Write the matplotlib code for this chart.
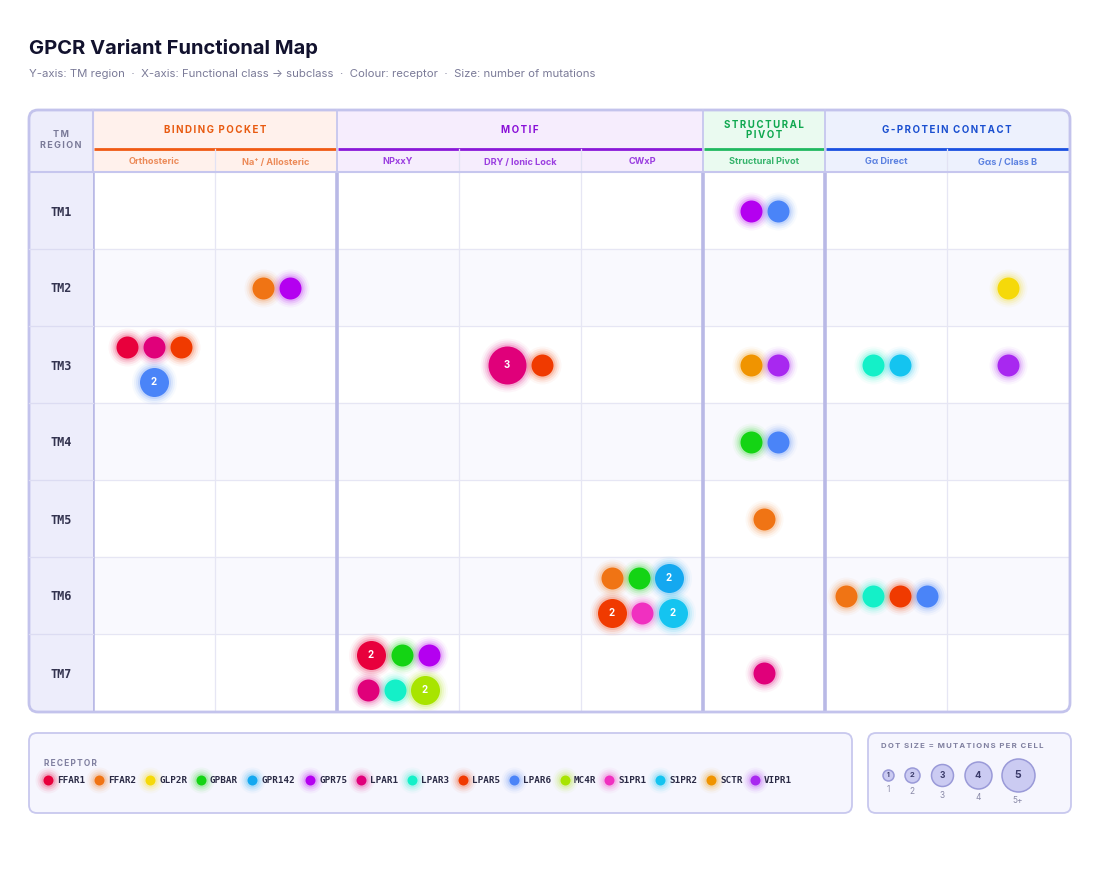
import matplotlib
matplotlib.use('Agg')
import matplotlib.pyplot as plt
from matplotlib.patches import FancyBboxPatch, Rectangle
import numpy as np

# ---- data ----
tm_regions = ['TM1', 'TM2', 'TM3', 'TM4', 'TM5', 'TM6', 'TM7']
subclasses = ['Orthosteric', 'Na\u207a / Allosteric', 'NPxxY', 'DRY / Ionic Lock', 'CWxP',
              'Structural Pivot', 'G\u03b1 Direct', 'G\u03b1s / Class B']
groups = ['BINDING POCKET', 'MOTIF', 'STRUCTURAL\nPIVOT', 'G-PROTEIN CONTACT']
group_span = [2, 3, 1, 2]

receptors = ['FFAR1', 'FFAR2', 'GLP2R', 'GPBAR', 'GPR142', 'GPR75', 'LPAR1', 'LPAR3',
             'LPAR5', 'LPAR6', 'MC4R', 'S1PR1', 'S1PR2', 'SCTR', 'VIPR1']
receptor_colors = ['#e8003c', '#f07414', '#f5d90a', '#14d414', '#14a8f0', '#b400f0',
                   '#e0007a', '#14f0c8', '#f03a00', '#4a84f8', '#a8e400', '#f030c0',
                   '#14c4f0', '#f09400', '#a828f0']

# one entry per dot: TM region, subclass index, receptor, number of mutations
var_tm = ['TM1', 'TM1',
          'TM2', 'TM2', 'TM2',
          'TM3', 'TM3', 'TM3', 'TM3', 'TM3', 'TM3', 'TM3', 'TM3', 'TM3', 'TM3', 'TM3',
          'TM4', 'TM4',
          'TM5',
          'TM6', 'TM6', 'TM6', 'TM6', 'TM6', 'TM6', 'TM6', 'TM6', 'TM6', 'TM6',
          'TM7', 'TM7', 'TM7', 'TM7', 'TM7', 'TM7', 'TM7']
var_sub = [5, 5,
           1, 1, 7,
           0, 0, 0, 0, 3, 3, 5, 5, 6, 6, 7,
           5, 5,
           5,
           4, 4, 4, 4, 4, 4, 6, 6, 6, 6,
           2, 2, 2, 2, 2, 2, 5]
var_rec = ['GPR75', 'LPAR6',
           'FFAR2', 'GPR75', 'GLP2R',
           'FFAR1', 'LPAR1', 'LPAR5', 'LPAR6', 'LPAR1', 'LPAR5', 'SCTR', 'VIPR1', 'LPAR3', 'S1PR2', 'VIPR1',
           'GPBAR', 'LPAR6',
           'FFAR2',
           'FFAR2', 'GPBAR', 'GPR142', 'LPAR5', 'S1PR1', 'S1PR2', 'FFAR2', 'LPAR3', 'LPAR5', 'LPAR6',
           'FFAR1', 'GPBAR', 'GPR75', 'LPAR1', 'LPAR3', 'MC4R', 'LPAR1']
var_n = [1, 1,
         1, 1, 1,
         1, 1, 1, 2, 3, 1, 1, 1, 1, 1, 1,
         1, 1,
         1,
         1, 1, 2, 2, 1, 2, 1, 1, 1, 1,
         2, 1, 1, 1, 1, 2, 1]

size_levels = [1, 2, 3, 4, 5]
size_labels = ['1', '2', '3', '4', '5+']

# ---- styling ----
grp_text = ['#e85a10', '#8a10d8', '#10a850', '#1a4fd0']
grp_line = ['#f05a14', '#8a18d8', '#20b860', '#1a50e0']
grp_sub = ['#ec8a58', '#9b3ee0', '#36b46c', '#5a80e0']
grp_bg = ['#fff1ec', '#f6edfd', '#eafaf0', '#edf1fd']

SANS = ['Inter', 'DejaVu Sans']
MONO = ['DejaVu Sans Mono']
PT = 0.72  # points per pixel at dpi 100

W, H = 1100, 884
fig = plt.figure(figsize=(11, 8.84), dpi=100)
fig.patch.set_facecolor('white')


def pix_axes(z):
    a = fig.add_axes([0, 0, 1, 1], zorder=z)
    a.set_xlim(0, W)
    a.set_ylim(H, 0)
    a.axis('off')
    a.patch.set_alpha(0)
    return a


def spaced(s):
    # crude letter tracking
    return '\u2009'.join(s).replace('\u2009\n\u2009', '\n').replace('\u2009 \u2009', '\u2009\u2009\u2009')


# panel geometry (pixels)
PX0, PX1, PY0, PY1 = 29, 1070, 110, 712
BX0, BX1, BY0, BY1 = 93, 1069, 172, 711
HEAD_MID = 149
COL_PX = (BX1 - BX0) / len(subclasses)
ROW_PX = (BY1 - BY0) / len(tm_regions)

bg = pix_axes(0)
gax = fig.add_axes([BX0 / W, 1 - BY1 / H, (BX1 - BX0) / W, (BY1 - BY0) / H], zorder=1)
fg = pix_axes(2)

panel = FancyBboxPatch((PX0, PY0), PX1 - PX0, PY1 - PY0,
                       boxstyle='round,pad=0,rounding_size=9', fc='white', ec='none')
bg.add_patch(panel)

# row label column
r = Rectangle((PX0, PY0), BX0 - PX0, PY1 - PY0, fc='#ededfb', ec='none')
bg.add_patch(r)
r.set_clip_path(panel)
bg.text((PX0 + BX0) / 2, 140, spaced('TM\nREGION'), ha='center', va='center', fontsize=6.5,
        fontweight='bold', color='#7a7a98', family=SANS, linespacing=1.15)

# group headers
bounds = np.concatenate([[0], np.cumsum(group_span)])
for g, name in enumerate(groups):
    x0 = BX0 + bounds[g] * COL_PX
    x1 = BX0 + bounds[g + 1] * COL_PX
    r = Rectangle((x0, PY0), x1 - x0, BY0 - PY0, fc=grp_bg[g], ec='none')
    bg.add_patch(r)
    r.set_clip_path(panel)
    fg.plot([x0 + 1, x1 - 1], [HEAD_MID, HEAD_MID], color=grp_line[g], lw=2, solid_capstyle='butt')
    fg.text((x0 + x1) / 2, 130, spaced(name), ha='center', va='center', fontsize=7,
            fontweight='bold', color=grp_text[g], family=SANS, linespacing=1.0)

# grid body
gax.set_xlim(0, len(subclasses))
gax.set_ylim(len(tm_regions), 0)
gax.patch.set_alpha(0)
for s in gax.spines.values():
    s.set_visible(False)
for i in range(len(tm_regions)):
    sp = gax.axhspan(i, i + 1, color='white' if i % 2 == 0 else '#f9f9fe', zorder=0)
    sp.set_clip_path(panel)
for i in range(1, len(tm_regions)):
    gax.axhline(i, color='#e6e6f4', lw=0.9, zorder=1)
for c in range(0, len(subclasses)):
    if c in bounds:
        gax.axvline(c, color='#b9b9e6', lw=2.6, zorder=1)
    else:
        gax.axvline(c, color='#e6e6f4', lw=0.9, zorder=1)

gax.xaxis.tick_top()
gax.set_xticks(np.arange(len(subclasses)) + 0.5)
gax.set_xticklabels(subclasses, fontsize=6.6, fontweight='bold', family=SANS, va='center')
gax.set_yticks(np.arange(len(tm_regions)) + 0.5)
gax.set_yticklabels(tm_regions, fontsize=8.5, fontweight='bold', family=MONO,
                    ha='center', color='#33334f')
gax.tick_params(axis='x', length=0, pad=(BY0 - 162) * PT)
gax.tick_params(axis='y', length=0, pad=(BX0 - 61) * PT)
sub_grp = np.repeat(np.arange(len(groups)), group_span)
for lbl, g in zip(gax.get_xticklabels(), sub_grp):
    lbl.set_color(grp_sub[g])

# header separators
for c in range(1, len(subclasses)):
    x = BX0 + c * COL_PX
    if c in bounds:
        fg.plot([x, x], [PY0, BY0], color='#c6c6ee', lw=1.3)
    else:
        fg.plot([x, x], [HEAD_MID, BY0], color='#e2e2f4', lw=0.9)
fg.plot([BX0, BX0], [PY0, BY0], color='#c6c6ee', lw=1.5)
fg.plot([PX0, PX1], [BY0 - 0.5, BY0 - 0.5], color='#c6c6ee', lw=1.5)
for i in range(1, len(tm_regions)):
    y = BY0 + i * ROW_PX
    fg.plot([PX0, BX0], [y, y], color='#dcdcf2', lw=0.9)

border = FancyBboxPatch((PX0, PY0), PX1 - PX0, PY1 - PY0,
                        boxstyle='round,pad=0,rounding_size=9', fc='none', ec='#c3c3ec', lw=2)
fg.add_patch(border)

# ---- dots ----
dot_r = {1: 11, 2: 14.5, 3: 19, 4: 22, 5: 24}
GAP, MAXW, ROW_PITCH = 5, 106, 35
col_of = dict(zip(receptors, receptor_colors))


def glow_dot(ax, x, y, rad, color, z=3):
    for extra, a in [(8, 0.04), (6, 0.07), (4, 0.10), (2, 0.16)]:
        ax.scatter([x], [y], s=(2 * (rad + extra) * PT) ** 2, color=color, alpha=a,
                   linewidths=0, zorder=z, clip_on=False)
    ax.scatter([x], [y], s=(2 * rad * PT) ** 2, color=color, linewidths=0, zorder=z + 1,
               clip_on=False)


cells = {}
for t, s, rec, n in zip(var_tm, var_sub, var_rec, var_n):
    cells.setdefault((tm_regions.index(t), s), []).append((rec, n))

for (row, col), items in cells.items():
    lines, cur, w = [], [], 0
    for rec, n in items:
        d = 2 * dot_r[n]
        add = d + (GAP if cur else 0)
        if cur and w + add > MAXW:
            lines.append(cur)
            cur, w = [(rec, n)], d
        else:
            cur.append((rec, n))
            w += add
    lines.append(cur)
    for k, line in enumerate(lines):
        dy = (k - (len(lines) - 1) / 2) * ROW_PITCH
        widths = [2 * dot_r[n] for _, n in line]
        total = sum(widths) + GAP * (len(line) - 1)
        x = -total / 2
        for (rec, n), d in zip(line, widths):
            cx = col + 0.5 + (x + d / 2) / COL_PX
            cy = row + 0.5 + dy / ROW_PX
            x += d + GAP
            glow_dot(gax, cx, cy, dot_r[n], col_of[rec])
            if n > 1:
                gax.text(cx, cy, str(n), ha='center', va='center', fontsize=7,
                         fontweight='bold', color='white', family=SANS, zorder=6)

# ---- title ----
fg.text(29, 48, 'GPCR Variant Functional Map', fontsize=14.5, fontweight='bold',
        color='#12122e', family=SANS, va='center')
fg.text(29, 74, 'Y-axis: TM region  \u00b7  X-axis: Functional class \u2192 subclass  \u00b7  '
        'Colour: receptor  \u00b7  Size: number of mutations',
        fontsize=8.2, color='#7b7b98', family=SANS, va='center')

# ---- receptor legend ----
fg.add_patch(FancyBboxPatch((29, 733), 823, 80, boxstyle='round,pad=0,rounding_size=8',
                            fc='#f6f6fe', ec='#c8c8ee', lw=1.3))
fg.text(44, 764, spaced('RECEPTOR'), fontsize=6, fontweight='bold', color='#8080a0',
        family=SANS, va='center')
lx = 48
for rec, c in zip(receptors, receptor_colors):
    glow_dot(fg, lx, 780, 5, c)
    fg.text(lx + 9, 780.5, rec, fontsize=6.7, fontweight='bold', color='#2a2a45',
            family=MONO, va='center', zorder=6)
    lx += 16 + 7 * len(rec)

# ---- size legend ----
fg.add_patch(FancyBboxPatch((868, 733), 203, 80, boxstyle='round,pad=0,rounding_size=8',
                            fc='#f6f6fe', ec='#c8c8ee', lw=1.3))
fg.text(962, 746, spaced('DOT SIZE = MUTATIONS PER CELL'), fontsize=5.6, fontweight='bold',
        color='#8080a0', family=SANS, ha='center', va='center')
size_x = [888, 912, 942, 978, 1018]
size_r = [5.5, 7.5, 11, 13.5, 16.5]
for lev, lab, sx, sr in zip(size_levels, size_labels, size_x, size_r):
    fg.scatter([sx], [775], s=(2 * sr * PT) ** 2, color='#cbcbf2', edgecolors='#9a9ad8',
               linewidths=1.1, zorder=4)
    fg.text(sx, 775, str(lev), ha='center', va='center', fontsize=4 + 0.7 * lev,
            fontweight='bold', color='#3a3a6a', family=SANS, zorder=5)
    fg.text(sx, 775 + sr + 9, lab, ha='center', va='center', fontsize=6, color='#8a8aa8',
            family=SANS)

fig.savefig('out.png', dpi=100)
